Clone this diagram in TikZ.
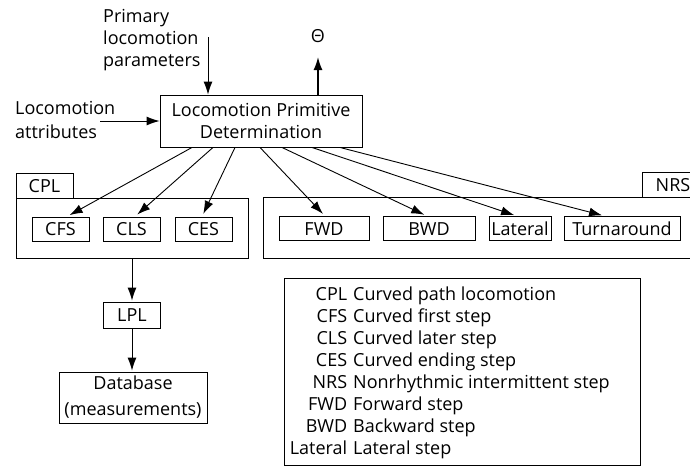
\documentclass[tikz,border=0pt]{standalone}
\usepackage{fontspec}
\setmainfont{Open Sans}
\usetikzlibrary{arrows.meta}
\begin{document}
\begin{tikzpicture}[x=1pt,y=-1pt,
  every node/.style={font=\fontsize{18}{22}\selectfont, inner sep=0pt},
  box/.style={draw, line width=0.9pt},
  stepbox/.style={box, minimum height=24pt, text height=13pt, text depth=0pt},
  arr/.style={line width=0.9pt, -{Latex[length=13pt,width=9pt]}},
  tipgap/.style={shorten >=3pt}
]
\useasboundingbox (0,0) rectangle (690,467);

% main box
\node[box, minimum width=202pt, minimum height=52pt, align=center] (main) at (261,121) {Locomotion Primitive\\Determination};

% theta output
\node (theta) at (318,36) {Θ};
\coordinate (thtip) at (318,57);
\draw[arr, line width=1.6pt] ([xshift=57pt]main.north) -- (thtip);

% primary parameters
\node[anchor=west, align=left] (prim) at (103,40) {Primary\\locomotion\\parameters};
\coordinate (primstart) at (208,37);
\draw[arr] (primstart) -- ([xshift=-53pt]main.north);

% attributes
\node[anchor=west, align=left] (attr) at (15,120) {Locomotion\\[2pt]attributes};
\coordinate (attrstart) at (100,121);
\draw[arr] (attrstart) -- (main.west);

% CPL container
\node[box, minimum width=232pt, minimum height=60pt] (cpl) at (132,228) {};
\node[box, minimum width=57pt, minimum height=25pt, text height=13pt, text depth=0pt] (cpltab) at (44.5,185.5) {CPL};

% NRS container (runs off the right edge)
\draw[box] (690,197) -- (263,197) -- (263,258) -- (690,258);
\draw[box] (642,197) -- (642,172) -- (690,172);
\node[text height=13pt, text depth=0pt] (nrstab) at (673,184.5) {NRS};

% step boxes
\node[stepbox, minimum width=57pt] (cfs) at (60.5,229) {CFS};
\node[stepbox, minimum width=57pt] (cls) at (131.5,229) {CLS};
\node[stepbox, minimum width=57pt] (ces) at (203.5,229) {CES};
\node[stepbox, minimum width=90pt] (fwd) at (324,228.5) {FWD};
\node[stepbox, minimum width=92pt] (bwd) at (429,228.5) {BWD};
\node[stepbox, minimum width=62pt] (lat) at (520,228.5) {Lateral};
\node[stepbox, minimum width=116pt] (turn) at (622,228.5) {Turnaround};

% arrows from main box
\draw[arr,tipgap] ([xshift=-69pt]main.south) -- ([xshift=6.5pt]cfs.north);
\draw[arr,tipgap] ([xshift=-48pt]main.south) -- ([xshift=3.5pt]cls.north);
\draw[arr,tipgap] ([xshift=-26pt]main.south) -- ([xshift=-1.5pt]ces.north);
\draw[arr,tipgap] ([xshift=-1pt]main.south) -- ([xshift=1pt]fwd.north);
\draw[arr,tipgap] ([xshift=21pt]main.south) -- ([xshift=-2pt]bwd.north);
\draw[arr,tipgap] ([xshift=51pt]main.south) -- ([xshift=-3pt]lat.north);
\draw[arr,tipgap] ([xshift=79pt]main.south) -- ([xshift=-17pt]turn.north);

% LPL and database
\node[box, minimum width=57pt, minimum height=26pt, text height=13pt, text depth=0pt] (lpl) at (132,315) {LPL};
\node[box, minimum width=148pt, minimum height=51pt, align=center] (db) at (133,397.5) {Database\\[4pt](measurements)};
\draw[arr, shorten >=1pt] (cpl.south) -- (lpl.north);
\draw[arr, shorten >=1pt] (lpl.south) -- (lpl.south |- db.north);

% legend
\node[box, minimum width=356pt, minimum height=187pt] (leg) at (462,371.5) {};
\node[anchor=north west, align=left] (legtext) at (353,287) {%
\makebox[0pt][r]{CPL\hspace{6pt}}Curved path locomotion\\
\makebox[0pt][r]{CFS\hspace{6pt}}Curved first step\\
\makebox[0pt][r]{CLS\hspace{6pt}}Curved later step\\
\makebox[0pt][r]{CES\hspace{6pt}}Curved ending step\\
\makebox[0pt][r]{NRS\hspace{6pt}}Nonrhythmic intermittent step\\
\makebox[0pt][r]{FWD\hspace{6pt}}Forward step\\
\makebox[0pt][r]{BWD\hspace{6pt}}Backward step\\
\makebox[0pt][r]{Lateral\hspace{6pt}}Lateral step};
\end{tikzpicture}
\end{document}
